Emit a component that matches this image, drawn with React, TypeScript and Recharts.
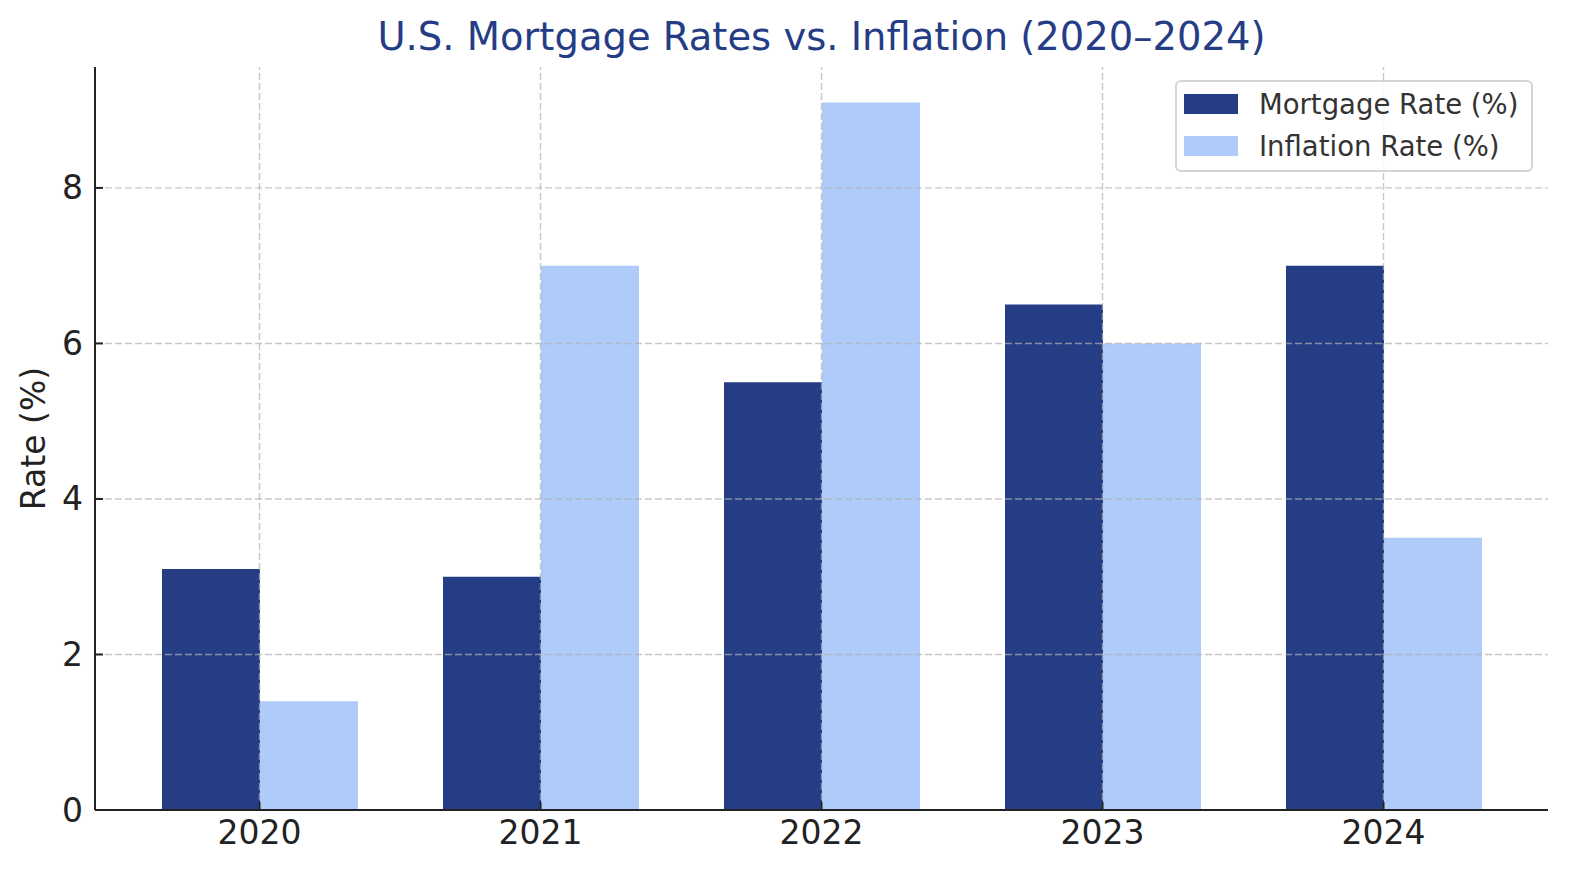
import { BarChart, Bar, XAxis, YAxis, ReferenceLine, Label } from "recharts";

const years = ["2020", "2021", "2022", "2023", "2024"];
const mortgage = [3.1, 3.0, 5.5, 6.5, 7.0];
const inflation = [1.4, 7.0, 9.1, 6.0, 3.5];
const yTicks = [0, 2, 4, 6, 8];

const NAVY = "#253d85";
const LIGHT = "#aecbfa";
const FONT = "DejaVu Sans, sans-serif";
const GRID = { stroke: "#b0b0b0", strokeOpacity: 0.7, strokeDasharray: "7 3", strokeWidth: 1.4 };

const data = years.map((y, i) => ({ year: y, mortgage: mortgage[i], inflation: inflation[i] }));

function YTick({ x, y, payload }: any) {
  return (
    <g>
      <line x1={x} x2={x + 8} y1={y} y2={y} stroke="#222" strokeWidth={2} />
      <text x={x - 12} y={y} textAnchor="end" dominantBaseline="central"
        fontSize={33} fill="#222" fontFamily={FONT}>{payload.value}</text>
    </g>
  );
}

function XTick({ x, y, payload }: any) {
  return (
    <g>
      <line x1={x} x2={x} y1={y} y2={y - 8} stroke="#222" strokeWidth={2} />
      <text x={x} y={y + 22} textAnchor="middle" dominantBaseline="central"
        fontSize={33} fill="#222" fontFamily={FONT}>{payload.value}</text>
    </g>
  );
}

function LegendBox() {
  const items = [
    { label: "Mortgage Rate (%)", color: NAVY },
    { label: "Inflation Rate (%)", color: LIGHT },
  ];
  return (
    <div style={{
      position: "absolute", left: 1175, top: 80, width: 358, height: 92,
      boxSizing: "border-box", border: "2px solid #d5d5d5", borderRadius: 6,
      background: "rgba(255,255,255,0.85)", padding: "1px 0 0 7px", fontFamily: FONT,
    }}>
      {items.map((it) => (
        <div key={it.label} style={{ display: "flex", alignItems: "center", height: 42 }}>
          <div style={{ width: 54, height: 20, background: it.color, marginRight: 21 }} />
          <span style={{ fontSize: 27.5, color: "#333" }}>{it.label}</span>
        </div>
      ))}
    </div>
  );
}

export default function App() {
  return (
    <div style={{
      position: "fixed", left: 0, top: 0, width: 1580, height: 880,
      overflow: "hidden", background: "#fff",
    }}>
      <div style={{
        position: "absolute", left: 95, width: 1453, top: 13, textAlign: "center",
        fontFamily: FONT, fontSize: 38.5, color: NAVY, lineHeight: "48px",
      }}>
        U.S. Mortgage Rates vs. Inflation (2020–2024)
      </div>
      <BarChart width={1580} height={880} data={data}
        margin={{ top: 67, right: 32, bottom: 0, left: 0 }}
        barSize={98} barGap={0}>
        <XAxis dataKey="year" height={70} padding={{ left: 24, right: 24 }}
          tickSize={0} tickMargin={0} tick={<XTick />}
          axisLine={{ stroke: "#222", strokeWidth: 2 }} />
        <YAxis width={95} domain={[0, 9.555]} ticks={yTicks} type="number"
          allowDataOverflow tickSize={0} tickMargin={0} tick={<YTick />}
          axisLine={{ stroke: "#222", strokeWidth: 2 }}>
          <Label value="Rate (%)" angle={-90} position="insideLeft" offset={33}
            style={{ fontSize: 33, fill: "#222", fontFamily: FONT, textAnchor: "middle" }} />
        </YAxis>
        <Bar dataKey="mortgage" fill={NAVY} isAnimationActive={false} />
        <Bar dataKey="inflation" fill={LIGHT} isAnimationActive={false} />
        {yTicks.filter((v) => v > 0).map((v) => (
          <ReferenceLine key={"h" + v} y={v} {...GRID} />
        ))}
        {years.map((y) => (
          <ReferenceLine key={"v" + y} x={y} {...GRID} />
        ))}
      </BarChart>
      <LegendBox />
    </div>
  );
}
